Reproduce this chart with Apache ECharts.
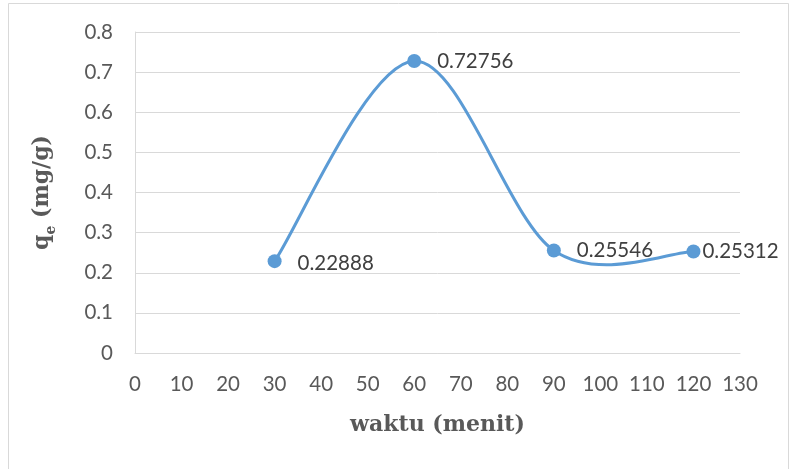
<!DOCTYPE html>
<html>
<head>
<meta charset="utf-8">
<script src="https://cdn.jsdelivr.net/npm/echarts@6/dist/echarts.min.js"></script>
<style>html,body{margin:0;padding:0;background:#fff}#c{width:793px;height:469px}</style>
</head>
<body>
<div id="c"></div>
<script>
const xValues = [30, 60, 90, 120];
const yValues = [0.22888, 0.72756, 0.25546, 0.25312];
const labelTexts = ['0.22888', '0.72756', '0.25546', '0.25312'];
const xTicks = {min: 0, max: 130, interval: 10};
const yTicks = {min: 0, max: 0.8, interval: 0.1};

const labelCfg = [
  {distance: 16, offset: [0, 2]},
  {distance: 16, offset: [0, 0]},
  {distance: 16, offset: [0, 0]},
  {distance: 2, offset: [0, 0]}
];

const LINE_COLOR = '#5b9bd5';
const tickFont = {color: '#595959', fontSize: 20.5, fontFamily: 'Lato, "Open Sans", sans-serif'};
const titleFont = {color: '#595959', fontSize: 22, fontWeight: 'bold', fontFamily: '"DejaVu Serif", serif'};

// Excel-style smoothed line (Catmull-Rom converted to cubic Bezier), computed from data in pixel space
function renderCurve(params, api) {
  if (params.dataIndex !== 0) return null;
  const pts = xValues.map((x, i) => api.coord([x, yValues[i]]));
  const n = pts.length;
  let d = 'M' + pts[0][0] + ' ' + pts[0][1];
  for (let i = 0; i < n - 1; i++) {
    const p0 = pts[Math.max(i - 1, 0)];
    const p1 = pts[i];
    const p2 = pts[i + 1];
    const p3 = pts[Math.min(i + 2, n - 1)];
    const c1 = [p1[0] + (p2[0] - p0[0]) / 6, p1[1] + (p2[1] - p0[1]) / 6];
    const c2 = [p2[0] - (p3[0] - p1[0]) / 6, p2[1] - (p3[1] - p1[1]) / 6];
    d += ' C' + c1[0] + ' ' + c1[1] + ' ' + c2[0] + ' ' + c2[1] + ' ' + p2[0] + ' ' + p2[1];
  }
  return {
    type: 'path',
    shape: {pathData: d},
    style: {fill: 'none', stroke: LINE_COLOR, lineWidth: 3, lineCap: 'round', lineJoin: 'round'}
  };
}

const chart = echarts.init(document.getElementById('c'), null, {renderer: 'canvas'});
chart.setOption({
  animation: false,
  backgroundColor: '#fff',
  graphic: [{
    type: 'rect', shape: {x: 8.5, y: 3.5, width: 780, height: 480},
    style: {fill: 'none', stroke: '#d9d9d9', lineWidth: 1}, silent: true
  }],
  grid: {left: 135, right: 53, top: 32, bottom: 116},
  xAxis: {
    type: 'value', min: xTicks.min, max: xTicks.max, interval: xTicks.interval,
    axisLine: {show: true, lineStyle: {color: '#d9d9d9', width: 1}},
    axisTick: {show: false},
    splitLine: {show: false},
    axisLabel: Object.assign({margin: 21}, tickFont),
    name: 'waktu (menit)', nameLocation: 'middle', nameGap: 61,
    nameTextStyle: titleFont
  },
  yAxis: {
    type: 'value', min: yTicks.min, max: yTicks.max, interval: yTicks.interval,
    axisLine: {show: true, lineStyle: {color: '#d9d9d9', width: 1}},
    axisTick: {show: false},
    splitLine: {show: true, lineStyle: {color: '#d9d9d9', width: 1}},
    axisLabel: Object.assign({margin: 22, formatter: v => String(Math.round(v * 10) / 10)}, tickFont),
    name: '{a|q}{b|e}{a| (mg/g)}', nameLocation: 'middle', nameGap: 82, nameRotate: 90,
    nameTextStyle: {
      rich: {
        a: Object.assign({lineHeight: 28, verticalAlign: 'bottom'}, titleFont),
        b: Object.assign({}, titleFont, {fontSize: 14, lineHeight: 28, verticalAlign: 'bottom', padding: [0, 0, -5, 0]})
      }
    }
  },
  series: [{
    type: 'custom',
    renderItem: renderCurve,
    data: xValues.map((x, i) => [x, yValues[i]]),
    encode: {x: 0, y: 1},
    z: 2,
    silent: true
  }, {
    type: 'scatter',
    z: 3,
    data: xValues.map((x, i) => ({
      value: [x, yValues[i]],
      label: {show: true, position: 'right', distance: labelCfg[i].distance, offset: labelCfg[i].offset,
        formatter: labelTexts[i], color: '#404040', fontSize: 20.5, fontFamily: 'Lato, "Open Sans", sans-serif'}
    })),
    symbol: 'circle', symbolSize: 14,
    itemStyle: {color: LINE_COLOR, opacity: 1}
  }]
});
</script>
</body>
</html>
